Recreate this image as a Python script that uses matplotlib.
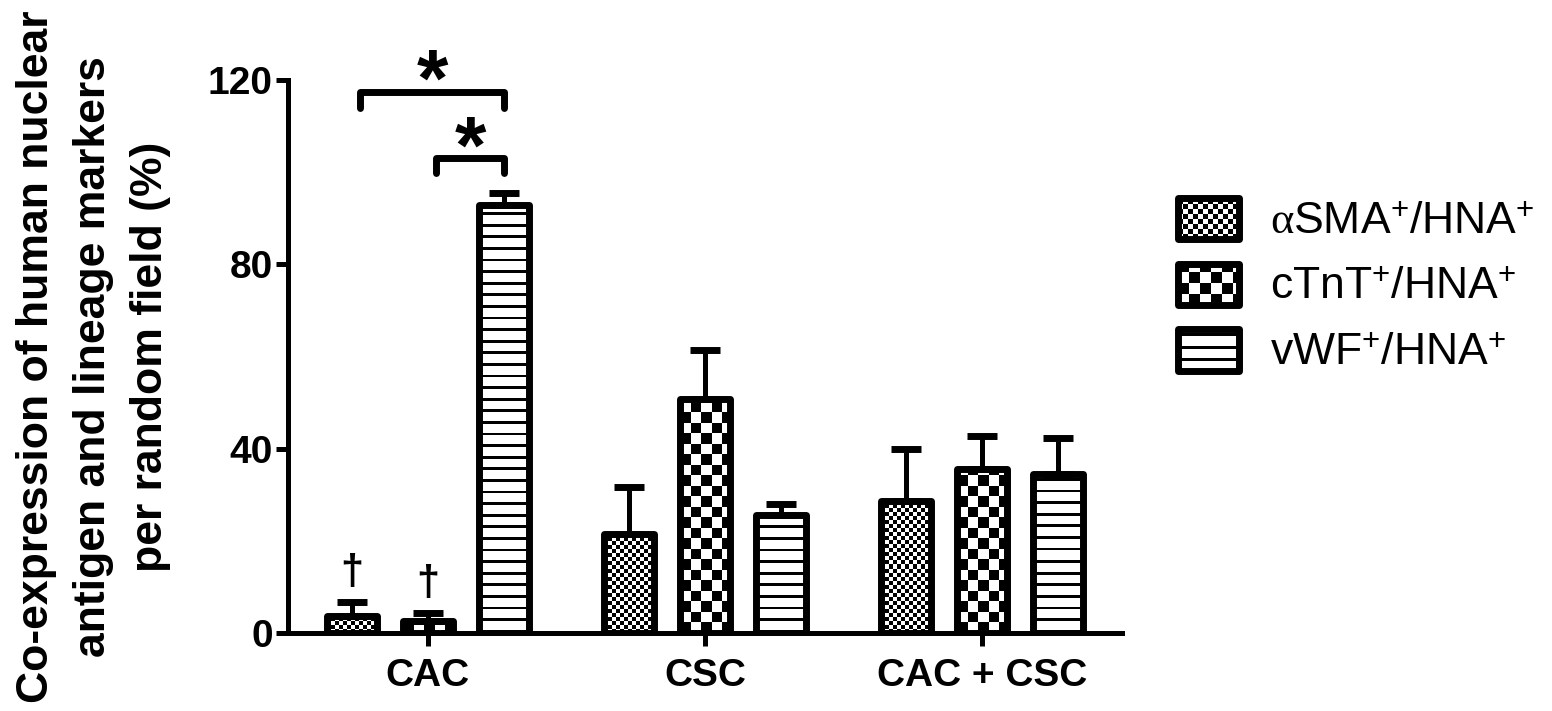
import numpy as np
import matplotlib
matplotlib.use('Agg')
import matplotlib.pyplot as plt
from matplotlib.patches import Rectangle
from matplotlib.legend_handler import HandlerBase

plt.rcParams['font.family'] = ['Liberation Sans', 'DejaVu Sans']
plt.rcParams['mathtext.fontset'] = 'custom'
plt.rcParams['mathtext.rm'] = 'Liberation Sans'
plt.rcParams['mathtext.it'] = 'Liberation Serif'

DPI = 100

# data (mean and upper error, %)
groups = ['CAC', 'CSC', 'CAC + CSC']
labels = [r'$\alpha$SMA$^{+}$/HNA$^{+}$', r'cTnT$^{+}$/HNA$^{+}$', r'vWF$^{+}$/HNA$^{+}$']
asma_mean = [3.6, 21.4, 28.7]
asma_err = [3.1, 10.2, 11.2]
ctnt_mean = [2.7, 50.7, 35.5]
ctnt_err = [1.6, 10.7, 7.3]
vwf_mean = [92.8, 25.6, 34.6]
vwf_err = [2.6, 2.4, 7.7]
yticks = [0, 40, 80, 120]

means = [asma_mean, ctnt_mean, vwf_mean]
errs = [asma_err, ctnt_err, vwf_err]
kinds = ['fine', 'coarse', 'stripes']

fig = plt.figure(figsize=(15.52, 7.11), dpi=DPI)
ax = fig.add_axes([288 / 1552, 78 / 711, 834 / 1552, 553 / 711])
xlim = (-0.505, 2.505)
ylim = (0, 120)


def pattern(kind, nx, ny):
    # pixel pattern for the bar fills
    yy, xx = np.indices((ny, nx))
    if kind == 'fine':
        return ((xx // 4 + yy // 4) % 2).astype(float)
    if kind == 'coarse':
        return ((xx // 10.5 + yy // 10.5) % 2).astype(float)
    return ((yy % 11.6) >= 2.8).astype(float)


class SwatchHandler(HandlerBase):
    def __init__(self, kind):
        super().__init__()
        self.kind = kind

    def create_artists(self, legend, orig_handle, xdescent, ydescent,
                       width, height, fontsize, trans):
        x0, y0 = -xdescent, -ydescent
        px = 72.0 / DPI
        arts = []
        if self.kind == 'stripes':
            per, t = 12.5 * px, 3.0 * px
            y = y0 + per - t
            while y + t < y0 + height:
                arts.append(Rectangle((x0, y), width, t, fc='black', lw=0))
                y += per
        else:
            c = (5.0 if self.kind == 'fine' else 11.0) * px
            nx = int(np.ceil(width / c))
            ny = int(np.ceil(height / c))
            for i in range(nx):
                for j in range(ny):
                    if (i + j) % 2 == 1:
                        w = min(c, width - i * c)
                        h = min(c, height - j * c)
                        arts.append(Rectangle((x0 + i * c, y0 + j * c), w, h, fc='black', lw=0))
        outline = Rectangle((x0, y0), width, height, fill=False, ec='black', lw=5)
        outline.set_joinstyle('round')
        arts.append(outline)
        for a in arts:
            a.set_transform(trans)
        return arts


x = np.arange(len(groups))
offset = 0.274
width = 0.18

bb = ax.get_window_extent()
sx = bb.width / (xlim[1] - xlim[0])
sy = bb.height / (ylim[1] - ylim[0])

all_bars = []
for k in range(3):
    xs = x + (k - 1) * offset
    bars = ax.bar(xs, means[k], width, facecolor='none', edgecolor='black',
                  linewidth=5, zorder=3)
    for b in bars:
        b.set_joinstyle('round')
        bx, bw, bh = b.get_x(), b.get_width(), b.get_height()
        nx = max(1, int(round(bw * sx)))
        ny = max(1, int(round(bh * sy)))
        ax.imshow(pattern(kinds[k], nx, ny), extent=(bx, bx + bw, 0, bh), origin='lower',
                  cmap='gray', vmin=0, vmax=1, interpolation='nearest', aspect='auto', zorder=2)
    ax.errorbar(xs, means[k], yerr=[np.zeros(3), errs[k]], fmt='none', ecolor='black',
                elinewidth=3.6, capsize=11, capthick=5, zorder=2.5)
    all_bars.append(bars)

# significance brackets within CAC (bar index pairs, level)
brackets = [(0, 2, 117.5, 3.6), (1, 2, 103, 3.2)]
for i, j, level, drop in brackets:
    xl = all_bars[i][0].get_x() + all_bars[i][0].get_width() / 2 + 0.03
    xr = all_bars[j][0].get_x() + all_bars[j][0].get_width() / 2
    ax.plot([xl, xl, xr, xr], [level - drop, level, level, level - drop], color='black',
            lw=5, solid_capstyle='round', solid_joinstyle='round', zorder=4, clip_on=False)
    ax.text((xl + xr) / 2, level - 3.0, '*', ha='center', va='baseline', fontsize=58,
            fontweight='bold', zorder=4)

# daggers above CAC aSMA and cTnT
for k in (0, 1):
    top = means[k][0] + errs[k][0]
    ax.text(x[0] + (k - 1) * offset, top + 2.0, '\u2020', ha='center', va='bottom',
            fontsize=30, fontweight='bold')

ax.set_xlim(*xlim)
ax.set_ylim(*ylim)
ax.set_yticks(yticks)
ax.set_xticks(x, groups)
for s in ['top', 'right']:
    ax.spines[s].set_visible(False)
for s in ['left', 'bottom']:
    ax.spines[s].set_linewidth(3.6)
ax.tick_params(axis='both', width=3.6, length=9)
ax.tick_params(axis='y', labelsize=28, pad=2)
ax.tick_params(axis='x', labelsize=28, pad=9)
for t in ax.get_xticklabels() + ax.get_yticklabels():
    t.set_fontweight('bold')

ax.set_ylabel('Co-expression of human nuclear\nantigen and lineage markers\nper random field (%)',
              fontsize=32, fontweight='bold', linespacing=1.5)
ax.yaxis.set_label_coords(-0.140, 0.5)

handles = [Rectangle((0, 0), 1, 1) for _ in labels]
fig.legend(handles, labels, loc='upper left', bbox_to_anchor=(1178 / 1552, 1 - 198 / 711),
           frameon=False, fontsize=32, handlelength=1.37, handleheight=1.05,
           handletextpad=0.7, labelspacing=0.47, borderpad=0, borderaxespad=0,
           handler_map={h: SwatchHandler(kd) for h, kd in zip(handles, kinds)})

fig.savefig('out.png', dpi=DPI)
